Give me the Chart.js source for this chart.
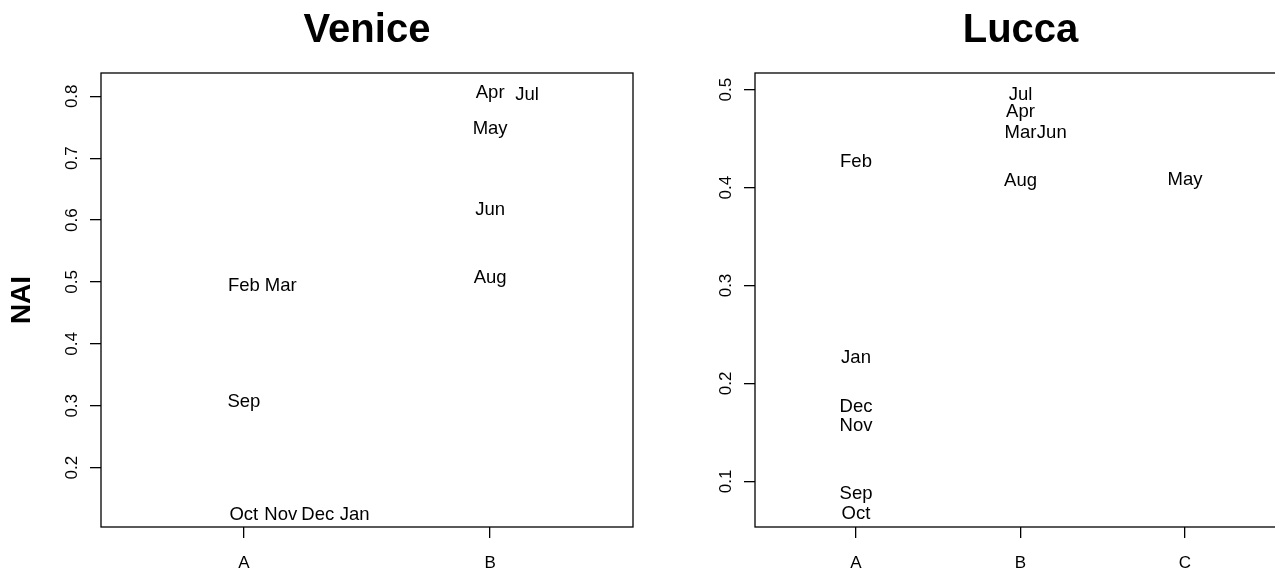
<!DOCTYPE html>
<html>
<head>
<meta charset="utf-8">
<title>NAI by month</title>
<script src="https://cdn.jsdelivr.net/npm/chart.js@4.4.1/dist/chart.umd.min.js"></script>
<style>
  html, body { margin: 0; padding: 0; background: #fff; overflow: hidden; width: 1275px; height: 574px; }
  canvas { position: absolute; top: 0; }
  #venice { left: 0; }
  #lucca { left: 654px; }
</style>
</head>
<body>
<canvas id="venice" width="640" height="574"></canvas>
<canvas id="lucca" width="639" height="574"></canvas>
<script>
// Group labels shown on the x axis
const groups = ['A', 'B', 'C'];

// Venice: month labels, group position (with side offsets) and NAI value
const veniceMonths = ['Feb', 'Mar', 'Sep', 'Oct', 'Nov', 'Dec', 'Jan', 'Apr', 'Jul', 'May', 'Jun', 'Aug'];
const veniceGroupPos = [1, 1.15, 1, 1, 1.15, 1.30, 1.45, 2, 2.15, 2, 2, 2];
const veniceNAI = [0.494, 0.494, 0.307, 0.124, 0.124, 0.124, 0.124, 0.806, 0.803, 0.748, 0.617, 0.506];
const veniceYTicks = [0.2, 0.3, 0.4, 0.5, 0.6, 0.7, 0.8];
const veniceXRange = [0.42, 2.58];
const veniceYRange = [0.1042, 0.8376];

// Lucca
const luccaMonths = ['Feb', 'Jan', 'Dec', 'Nov', 'Sep', 'Oct', 'Jul', 'Apr', 'Mar', 'Jun', 'Aug', 'May'];
const luccaGroupPos = [1, 1, 1, 1, 1, 1, 2, 2, 2, 2.19, 2, 3];
const luccaNAI = [0.426, 0.226, 0.176, 0.157, 0.087, 0.067, 0.495, 0.477, 0.456, 0.456, 0.407, 0.408];
const luccaYTicks = [0.1, 0.2, 0.3, 0.4, 0.5];
const luccaXRange = [0.386, 3.614];
const luccaYRange = [0.0534, 0.517];

const FONT = "'Liberation Sans', Arial, Helvetica, sans-serif";

// Draws the month names at their points, the plot frame and the panel title
const panelDecor = {
  id: 'panelDecor',
  afterDatasetsDraw(chart, args, opts) {
    const ctx = chart.ctx;
    const a = chart.chartArea;
    ctx.save();
    ctx.fillStyle = '#000';
    ctx.textAlign = 'center';
    ctx.textBaseline = 'middle';
    ctx.font = `18.5px ${FONT}`;
    chart.data.datasets.forEach((ds, i) => {
      chart.getDatasetMeta(i).data.forEach((pt, j) => {
        ctx.fillText(ds.labels[j], pt.x, pt.y);
      });
    });
    ctx.strokeStyle = '#000';
    ctx.lineWidth = 1.3;
    ctx.strokeRect(a.left, a.top, a.right - a.left, a.bottom - a.top);
    ctx.font = `bold 40px ${FONT}`;
    ctx.fillText(opts.text, (a.left + a.right) / 2, 31);
    ctx.restore();
  }
};

function makePanel(id, title, months, xs, ys, xRange, yRange, yTicks, nGroups, yTitle) {
  const axisGrid = { drawOnChartArea: false, drawTicks: true, tickLength: 11, color: '#000', lineWidth: 1.3 };
  return new Chart(document.getElementById(id), {
    type: 'scatter',
    data: {
      datasets: [{
        data: months.map((m, i) => ({ x: xs[i], y: ys[i] })),
        labels: months,
        pointRadius: 0,
        pointHoverRadius: 0
      }]
    },
    options: {
      responsive: false,
      animation: false,
      events: [],
      layout: { padding: { top: 73, right: 7, left: 0, bottom: 0 } },
      plugins: {
        legend: { display: false },
        tooltip: { enabled: false },
        title: { display: false },
        panelDecor: { text: title }
      },
      scales: {
        x: {
          type: 'linear',
          position: 'bottom',
          min: xRange[0],
          max: xRange[1],
          afterBuildTicks: s => { s.ticks = groups.slice(0, nGroups).map((g, i) => ({ value: i + 1 })); },
          afterFit: s => { s.height = 47; },
          ticks: {
            callback: v => groups[Math.round(v) - 1],
            font: { family: FONT, size: 17 },
            color: '#000',
            padding: 15,
            maxRotation: 0,
            autoSkip: false
          },
          grid: axisGrid,
          border: { display: false }
        },
        y: {
          type: 'linear',
          position: 'left',
          min: yRange[0],
          max: yRange[1],
          afterBuildTicks: s => { s.ticks = yTicks.map(v => ({ value: v })); },
          afterFit: s => { s.width = 101; },
          title: {
            display: !!yTitle,
            text: yTitle || '',
            font: { family: FONT, size: 28, weight: 'bold' },
            color: '#000',
            padding: { top: 5, bottom: 0 }
          },
          ticks: {
            minRotation: 90,
            maxRotation: 90,
            crossAlign: 'center',
            padding: 6,
            font: { family: FONT, size: 17 },
            color: '#000',
            callback: v => v.toFixed(1),
            autoSkip: false
          },
          grid: axisGrid,
          border: { display: false }
        }
      }
    },
    plugins: [panelDecor]
  });
}

makePanel('venice', 'Venice', veniceMonths, veniceGroupPos, veniceNAI,
  veniceXRange, veniceYRange, veniceYTicks, 2, 'NAI');
makePanel('lucca', 'Lucca', luccaMonths, luccaGroupPos, luccaNAI,
  luccaXRange, luccaYRange, luccaYTicks, 3, null);
</script>
</body>
</html>
